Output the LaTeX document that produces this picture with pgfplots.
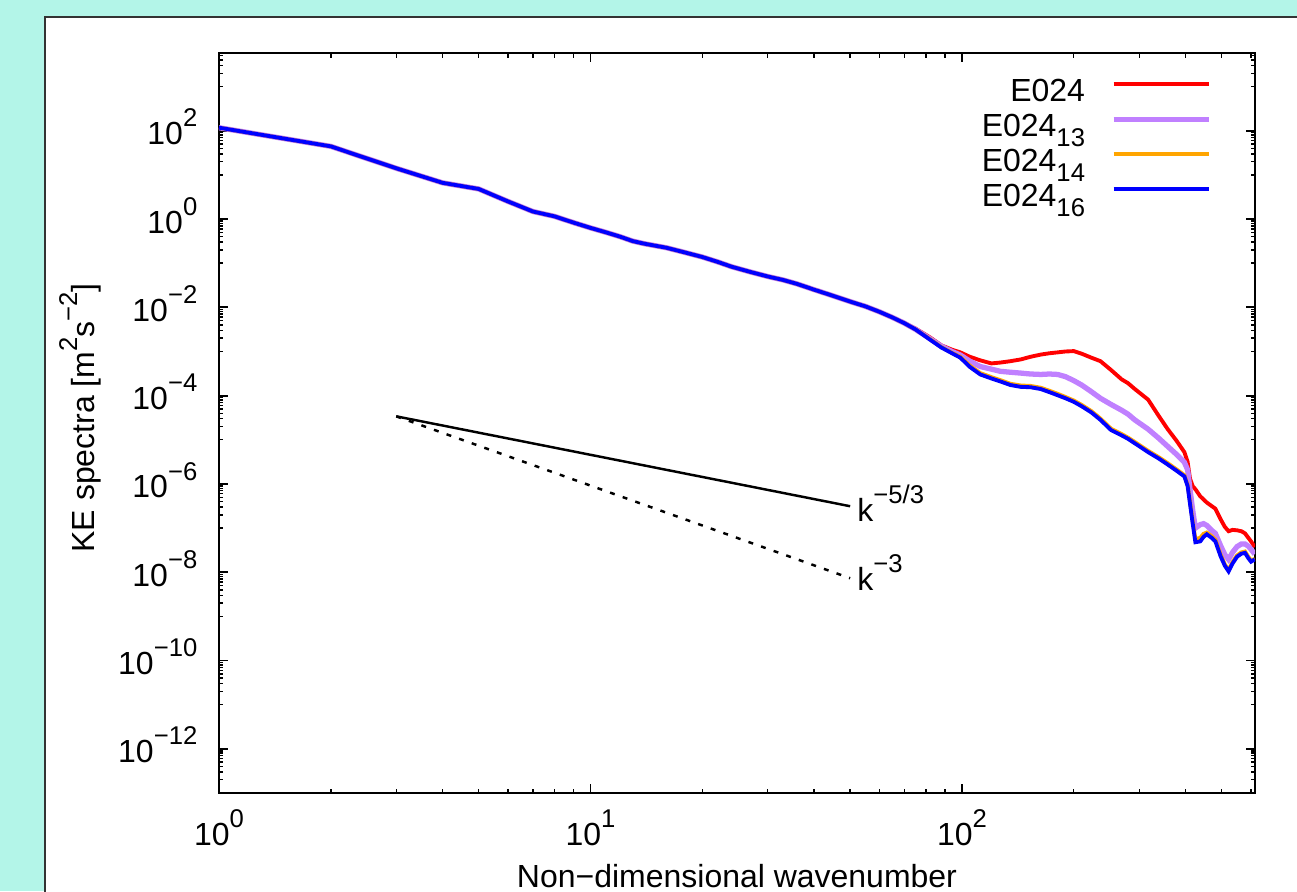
\documentclass[border=0pt]{standalone}
\usepackage{fontspec}
\setmainfont{Liberation Sans}
\usepackage{pgfplots}
\usepackage{pgfplotstable}
\pgfplotsset{compat=1.18}

\definecolor{bgc}{RGB}{179,245,232}
\definecolor{lav}{RGB}{192,128,255}
\definecolor{org}{RGB}{255,165,0}
\newcommand\sups[1]{\raisebox{0.56em}{\fontsize{7.3}{8}\selectfont #1}}
\newcommand\subs[1]{\raisebox{-0.3em}{\fontsize{7.3}{8}\selectfont #1}}

% k  E024  E024_13  E024_14  E024_16
\pgfplotstableread{
k r l o b
1 117 117 117 117
2 44.2 44.2 44.2 44.2
3 14.1 14.1 14.1 14.1
4 6.6 6.6 6.6 6.6
5 4.8 4.8 4.8 4.8
6 2.5 2.5 2.5 2.5
7 1.48 1.48 1.48 1.48
8 1.15 1.15 1.15 1.15
9 0.83 0.83 0.83 0.83
10 0.63 0.63 0.63 0.63
11 0.50 0.50 0.50 0.50
12 0.40 0.40 0.40 0.40
13 0.316 0.316 0.316 0.316
14 0.275 0.275 0.275 0.275
16 0.224 0.224 0.224 0.224
18 0.174 0.174 0.174 0.174
20 0.138 0.138 0.138 0.138
22 0.107 0.107 0.107 0.107
24 0.083 0.083 0.083 0.083
27 0.063 0.063 0.063 0.063
30 0.050 0.050 0.050 0.050
33 0.0417 0.0417 0.0417 0.0417
36 0.0339 0.0339 0.0339 0.0339
40 0.0251 0.0251 0.0251 0.0251
45 0.0182 0.0182 0.0182 0.0182
50 0.0135 0.0135 0.0135 0.0135
55 0.0105 0.0105 0.0105 0.0105
60 7.9e-3 7.9e-3 7.9e-3 7.9e-3
65 5.9e-3 5.9e-3 5.9e-3 5.9e-3
70 4.4e-3 4.37e-3 4.37e-3 4.37e-3
75 3.31e-3 3.16e-3 3.16e-3 3.16e-3
82 2.09e-3 1.95e-3 1.91e-3 1.86e-3
88 1.38e-3 1.32e-3 1.26e-3 1.23e-3
94 1.10e-3 1.00e-3 9.33e-4 9.12e-4
99 9.55e-4 8.32e-4 7.59e-4 7.24e-4
105 7.59e-4 6.03e-4 4.79e-4 4.47e-4
112 6.31e-4 4.57e-4 3.24e-4 3.02e-4
120 5.37e-4 3.98e-4 2.63e-4 2.45e-4
127 5.62e-4 3.55e-4 2.24e-4 2.09e-4
135 6.03e-4 3.39e-4 1.86e-4 1.74e-4
144 6.61e-4 3.24e-4 1.70e-4 1.58e-4
153 7.59e-4 3.09e-4 1.66e-4 1.55e-4
163 8.51e-4 3.02e-4 1.51e-4 1.41e-4
172 9.12e-4 3.09e-4 1.29e-4 1.20e-4
181 9.55e-4 3.02e-4 1.10e-4 1.02e-4
190 1.00e-3 2.69e-4 9.33e-5 8.71e-5
200 1.02e-3 2.19e-4 7.76e-5 7.24e-5
210 8.91e-4 1.74e-4 6.17e-5 5.75e-5
223 7.24e-4 1.23e-4 4.47e-5 4.17e-5
236 6.03e-4 8.71e-5 3.02e-5 2.82e-5
252 3.80e-4 6.31e-5 1.78e-5 1.66e-5
269 2.34e-4 4.68e-5 1.35e-5 1.26e-5
280 1.91e-4 3.80e-5 1.12e-5 1.05e-5
292 1.41e-4 2.82e-5 8.91e-6 8.32e-6
317 8.13e-5 1.74e-5 5.62e-6 5.25e-6
338 3.55e-5 1.10e-5 4.07e-6 3.80e-6
358 1.74e-5 7.08e-6 2.95e-6 2.75e-6
378 9.55e-6 4.68e-6 2.14e-6 2.00e-6
397 5.25e-6 3.09e-6 1.58e-6 1.48e-6
405 3.16e-6 2.09e-6 9.55e-7 8.91e-7
411 1.32e-6 7.59e-7 3.98e-7 3.55e-7
418 8.91e-7 2.51e-7 1.41e-7 1.26e-7
425 7.59e-7 1.00e-7 5.62e-8 4.79e-8
438 5.25e-7 1.20e-7 6.03e-8 5.01e-8
447 4.47e-7 1.26e-7 7.41e-8 6.31e-8
456 3.80e-7 1.15e-7 7.94e-8 7.24e-8
470 3.16e-7 8.91e-8 6.61e-8 6.03e-8
481 2.75e-7 7.59e-8 5.50e-8 5.01e-8
497 1.58e-7 3.98e-8 2.51e-8 2.29e-8
510 1.07e-7 2.51e-8 1.51e-8 1.41e-8
522 8.51e-8 1.95e-8 1.12e-8 1.05e-8
535 9.12e-8 2.82e-8 1.70e-8 1.58e-8
550 8.91e-8 3.80e-8 2.40e-8 2.24e-8
565 8.51e-8 4.37e-8 2.82e-8 2.63e-8
578 7.59e-8 4.37e-8 2.95e-8 2.75e-8
590 6.03e-8 3.89e-8 2.24e-8 2.09e-8
600 5.01e-8 3.31e-8 1.86e-8 1.74e-8
614 3.72e-8 2.57e-8 2.00e-8 1.95e-8
}\spec

\begin{document}
\begin{tikzpicture}[font=\fontsize{9.1}{11}\selectfont]
\useasboundingbox (-2.19,-0.98) rectangle (10.78,7.93);
\begin{scope}
\clip (-2.19,-0.98) rectangle (10.78,7.93);
\fill[bgc] (-2.19,-0.98) rectangle (10.78,7.93);
\filldraw[fill=white, draw=black!80, line width=0.6pt] (-1.74,-3) rectangle (12,7.76);
\begin{axis}[
    at={(0,0)}, anchor=south west,
    scale only axis, width=10.36cm, height=7.40cm,
    xmode=log, ymode=log,
    xmin=1, xmax=615, ymin=1e-13, ymax=5.75e3,
    axis line style={line width=0.7pt},
    tick align=inside,
    major tick length=0.09cm, minor tick length=0.045cm,
    every tick/.style={black, line width=0.5pt},
    every minor tick/.style={black, line width=0.4pt},
    xtick={1,10,100},
    xticklabels={10\sups{0},10\sups{1},10\sups{2}},
    minor xtick={2,3,4,5,6,7,8,9,20,30,40,50,60,70,80,90,200,300,400,500,600},
    ytick={1e-12,1e-10,1e-8,1e-6,1e-4,1e-2,1,1e2},
    yticklabels={10\sups{−12},10\sups{−10},10\sups{−8},10\sups{−6},10\sups{−4},10\sups{−2},10\sups{0},10\sups{2}},
    minor ytick={1e-13,2e-13,3e-13,4e-13,5e-13,6e-13,7e-13,8e-13,9e-13,
      1e-11,2e-11,3e-11,4e-11,5e-11,6e-11,7e-11,8e-11,9e-11,
      1e-9,2e-9,3e-9,4e-9,5e-9,6e-9,7e-9,8e-9,9e-9,
      1e-7,2e-7,3e-7,4e-7,5e-7,6e-7,7e-7,8e-7,9e-7,
      1e-5,2e-5,3e-5,4e-5,5e-5,6e-5,7e-5,8e-5,9e-5,
      1e-3,2e-3,3e-3,4e-3,5e-3,6e-3,7e-3,8e-3,9e-3,
      0.1,0.2,0.3,0.4,0.5,0.6,0.7,0.8,0.9,
      10,20,30,40,50,60,70,80,90,
      1000,2000,3000,4000,5000},
    xticklabel style={anchor=base, inner sep=0pt, yshift=-0.52cm},
    yticklabel style={anchor=base east, inner sep=0pt, xshift=-0.21cm, yshift=-0.14cm},
    xlabel={Non−dimensional wavenumber},
    ylabel={KE spectra [m\sups{2}s\sups{−2}]},
    xlabel style={at={(axis description cs:0.5,-0.128)}, anchor=base, inner sep=0pt},
    ylabel style={at={(axis description cs:-0.1197,0.507)}, anchor=base, inner sep=0pt},
    legend style={draw=none, fill=none, at={(0.9585,0.969)}, anchor=north east,
      inner sep=0pt, row sep=0pt,
      nodes={inner sep=0pt, text height=0.25cm, text depth=0.10cm},
      /tikz/every odd column/.append style={column sep=0.26cm}},
    legend cell align=right,
    legend plot pos=right,
    legend image code/.code={\draw[#1] (0cm,0.1cm) -- (0.95cm,0.1cm);},
]
\addplot[red, line width=1.1pt] table[x=k, y=r] {\spec};
\addlegendentry{E024}
\addplot[lav, line width=1.5pt] table[x=k, y=l] {\spec};
\addlegendentry{E024\subs{13}}
\addplot[org, line width=1.1pt] table[x=k, y=o] {\spec};
\addlegendentry{E024\subs{14}}
\addplot[blue, line width=1.1pt] table[x=k, y=b] {\spec};
\addlegendentry{E024\subs{16}}
% reference slopes
\addplot[black, line width=0.7pt, forget plot] coordinates {(3,3.4e-5) (50,3.13e-7)};
\addplot[black, line width=0.7pt, dash pattern=on 1.4pt off 2.4pt, forget plot] coordinates {(3,3.4e-5) (50,7.34e-9)};
\node[anchor=base west, inner sep=0pt] at (axis cs:52.1,1.43e-7) {k\sups{−5/3}};
\node[anchor=base west, inner sep=0pt] at (axis cs:52.1,3.92e-9) {k\sups{−3}};
\end{axis}
\end{scope}
\end{tikzpicture}
\end{document}
